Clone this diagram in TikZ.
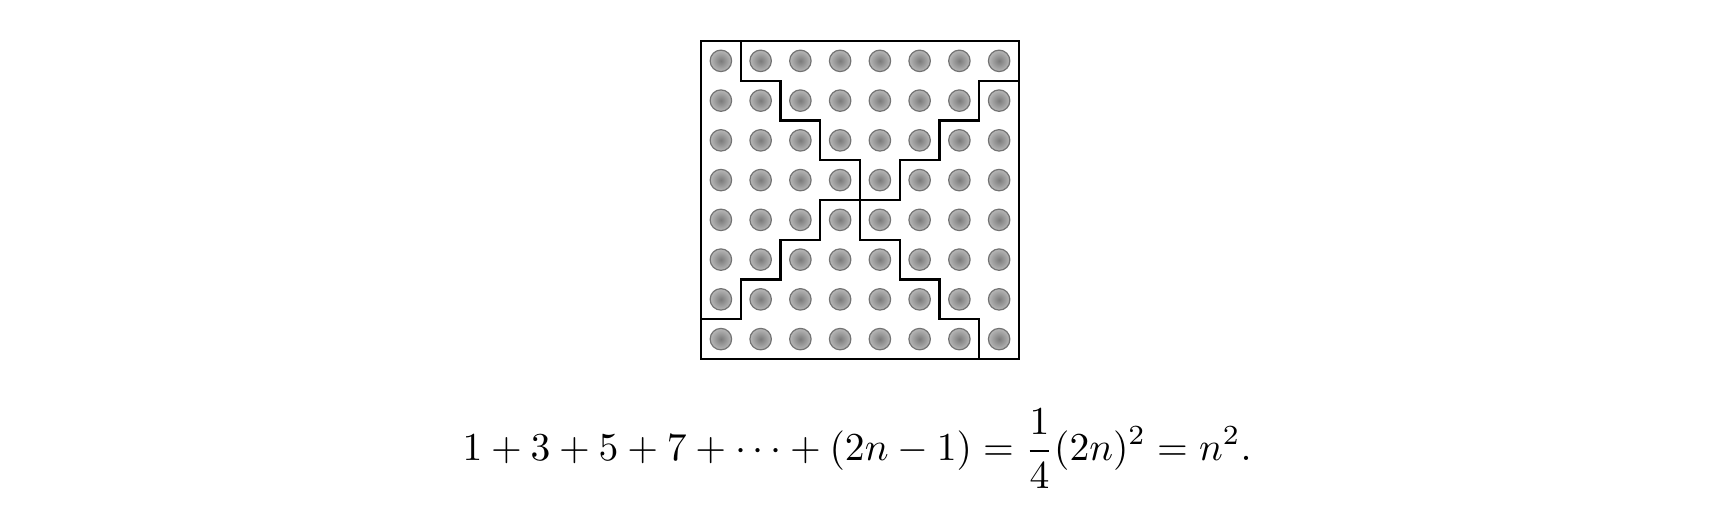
\documentclass[tikz,border=0pt]{standalone}
\usepackage{amsmath}
\usepackage{graphicx}
\tikzset{
  dot/.style={shading=radial, inner color=black!52, outer color=black!28, draw=black!55, line width=0.3pt},
  frame/.style={draw=black, line width=0.6pt},
  stair/.style={draw=black, line width=0.6pt, line join=miter}
}
\begin{document}
\begin{tikzpicture}[x=0.25pt, y=0.25pt]
\useasboundingbox (0,0) rectangle (1711,522);
\begin{scope}[shift={(175.25pt,40.75pt)}, x=9.9375pt, y=9.9375pt]
  \foreach \i in {0,...,7}{
    \foreach \j in {0,...,7}{
      \path[dot] (\i+0.5,\j+0.5) circle (0.27);
    }
  }
  \draw[stair] (1,8) -- (1,7) -- (2,7) -- (2,6) -- (3,6) -- (3,5) -- (4,5) -- (4,3)
    -- (5,3) -- (5,2) -- (6,2) -- (6,1) -- (7,1) -- (7,0);
  \draw[stair] (8,7) -- (7,7) -- (7,6) -- (6,6) -- (6,5) -- (5,5) -- (5,4) -- (3,4)
    -- (3,3) -- (2,3) -- (2,2) -- (1,2) -- (1,1) -- (0,1);
  \draw[frame] (0,0) rectangle (8,8);
\end{scope}
\node[anchor=base, inner sep=0pt] (eq) at (857,61)
  {\resizebox{197.25pt}{!}{$\displaystyle 1+3+5+7+\cdots+(2n-1)=\frac{1}{4}(2n)^2=n^2.$}};
\end{tikzpicture}
\end{document}
